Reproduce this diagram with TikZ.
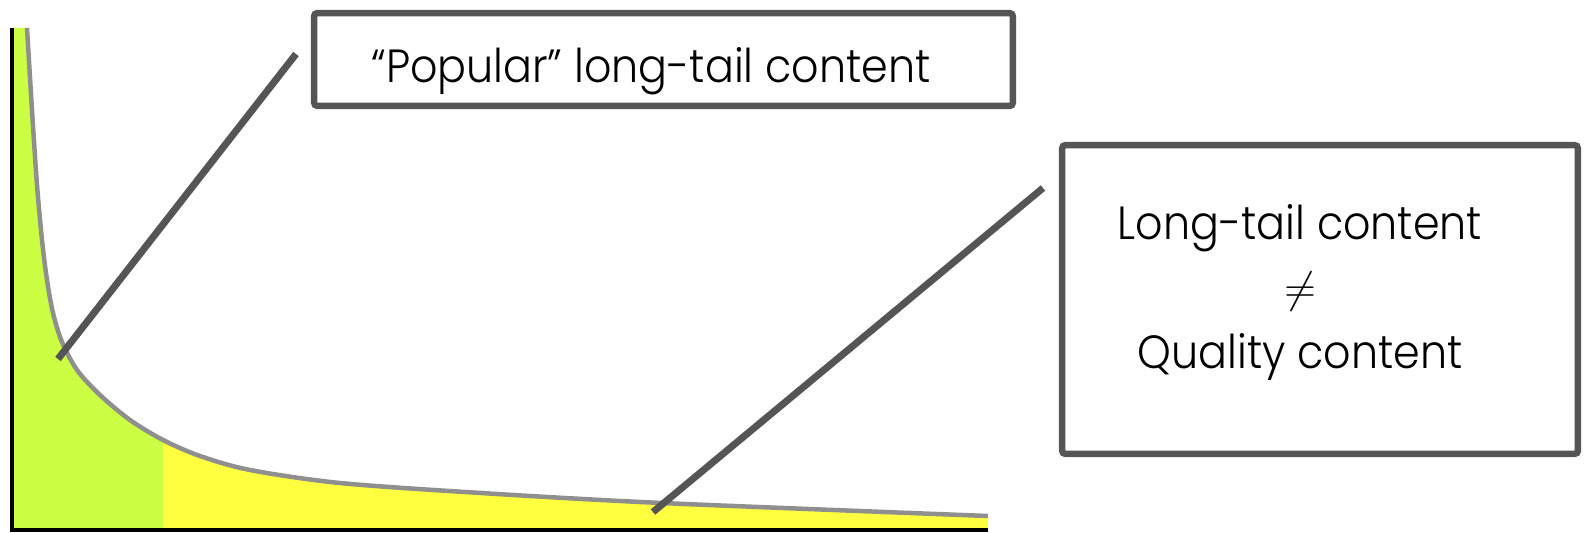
\documentclass[tikz,border=0pt]{standalone}
\usepackage{fontspec}
\setmainfont{Poppins Light}[FakeStretch=0.92]
\usetikzlibrary{positioning}
\definecolor{popgreen}{RGB}{204,255,68}
\definecolor{tailyellow}{RGB}{255,255,64}
\definecolor{curvegray}{RGB}{143,143,143}
\definecolor{boxgray}{RGB}{85,85,85}
\tikzset{
  labelbox/.style = {rectangle, draw=boxgray, line width=0.13cm,
    rounded corners=2pt, fill=white, inner sep=0pt},
  labeltext/.style = {align=center, inner sep=0pt,
    font=\fontsize{26.5}{37}\selectfont},
  leader/.style = {boxgray, line width=0.14cm},
  tailline/.style = {curvegray, line width=0.09cm},
  axisline/.style = {black, line width=0.08cm},
  tailpath/.style = {insert path={-- plot[smooth, tension=0.5] coordinates {
    (27,28) (32,110) (37,185) (42,240) (47,280) (53,313) (62,342)
    (77,370) (100,395) (130,420) (163,440) (200,456) (250,470)
    (340,483) (481,493) (662,503) (988,516)}}},
}
\begin{document}
\begin{tikzpicture}[x=0.02cm, y=-0.02cm]
  \useasboundingbox (0,0) rectangle (1584,533);
  % head and tail areas
  \begin{scope}
    \clip (0,0) rectangle (163,533);
    \fill[popgreen] (12,28) [tailpath] -- (988,530) -- (12,530) -- cycle;
  \end{scope}
  \begin{scope}
    \clip (163,0) rectangle (988,533);
    \fill[tailyellow] (12,28) [tailpath] -- (988,530) -- (12,530) -- cycle;
  \end{scope}
  \draw[tailline] (27,28) [tailpath];
  \draw[axisline] (12,28) -- (12,530) -- (988,530);

  % label boxes
  \node[labelbox, minimum width=13.98cm, minimum height=1.86cm] (popbox) at (663.5,59.5) {};
  \node[labeltext, anchor=base] (poptext) at (651,83) {“Popular” long-tail content};

  \node[labelbox, minimum width=10.32cm, minimum height=6.18cm] (qualbox) at (1320,299.5) {};
  \node[labeltext, anchor=base] (qualtop) at (1300,240) {Long-tail content};
  \node[labeltext] (qualne) at (1300,292) {$\neq$};
  \node[labeltext, anchor=base] (qualbot) at (1300,368) {Quality content};

  % pointers
  \coordinate (popfrom) at (296,54);
  \coordinate (popto) at (58,359);
  \coordinate (qualfrom) at (1043,188);
  \coordinate (qualto) at (653,512);
  \path[leader] (popfrom) edge (popto);
  \path[leader] (qualfrom) edge (qualto);
\end{tikzpicture}
\end{document}
